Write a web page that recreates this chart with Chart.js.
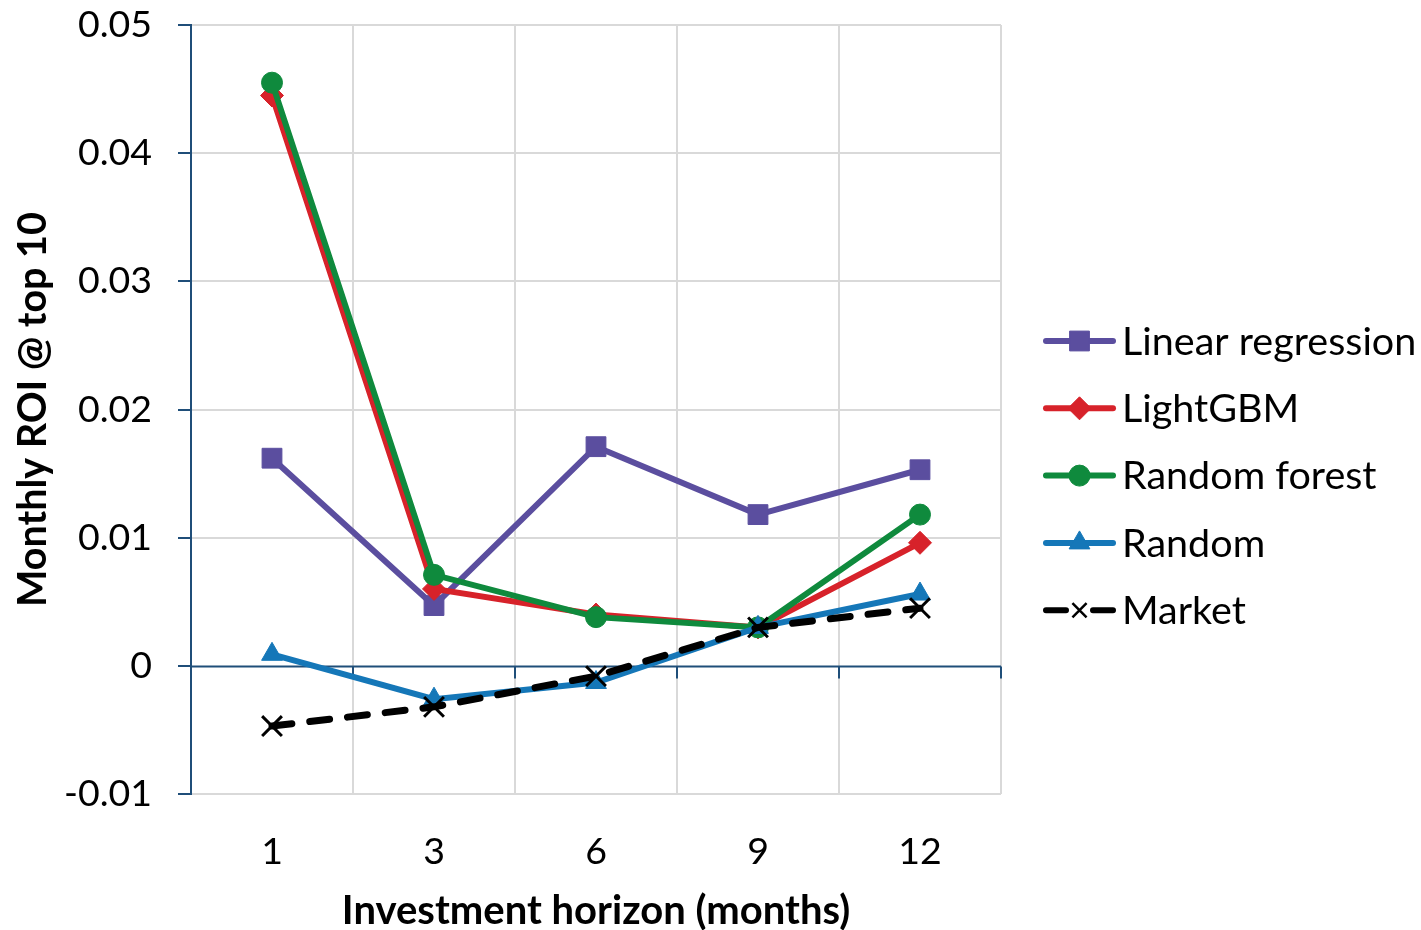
<!DOCTYPE html>
<html>
<head>
<meta charset="utf-8">
<title>Monthly ROI by investment horizon</title>
<script src="https://cdn.jsdelivr.net/npm/chart.js@4/dist/chart.umd.min.js"></script>
<style>
  html, body { margin: 0; padding: 0; background: #ffffff; }
  #wrap { width: 1421px; height: 930px; position: relative; }
</style>
</head>
<body>
<div id="wrap"><canvas id="roi"></canvas></div>
<script>
// Investment horizons (months)
const horizons = ['1', '3', '6', '9', '12'];

// Monthly ROI @ top 10 for each model
const linearRegression = [0.0162, 0.0047, 0.0171, 0.0118, 0.0153];
const lightGBM         = [0.0445, 0.0060, 0.0040, 0.0030, 0.0096];
const randomForest     = [0.0455, 0.0071, 0.0038, 0.0030, 0.0118];
const randomPick       = [0.0009, -0.0026, -0.0013, 0.0030, 0.0056];
const market           = [-0.0047, -0.0032, -0.0008, 0.0030, 0.0045];

const FONT = 'Lato, "Open Sans", sans-serif';
const AXIS_BLUE = '#1F4E79';
const GRID_GREY = '#d9d9d9';

const series = [
  { label: 'Linear regression', data: linearRegression, color: '#5B4E9F', pointStyle: 'rect',     radius: 14,   width: 6, dash: [] },
  { label: 'LightGBM',          data: lightGBM,         color: '#D7222A', pointStyle: 'rectRot',  radius: 11.5, width: 6, dash: [] },
  { label: 'Random forest',     data: randomForest,     color: '#0F8A3D', pointStyle: 'circle',   radius: 10.5, width: 6, dash: [] },
  { label: 'Random',            data: randomPick,       color: '#1577B8', pointStyle: 'triangle', radius: 12,   width: 6, dash: [] },
  { label: 'Market',            data: market,           color: '#000000', pointStyle: 'crossRot', radius: 14,   width: 7, dash: [20, 18] }
];

// Later series are painted on top of earlier ones
const datasets = series.map((s, i) => ({
  label: s.label,
  data: s.data,
  order: series.length - 1 - i,
  borderColor: s.color,
  backgroundColor: s.color,
  borderWidth: s.width,
  borderDash: s.dash,
  borderCapStyle: s.dash.length ? 'round' : 'butt',
  pointStyle: s.pointStyle,
  pointRadius: s.radius,
  pointHoverRadius: s.radius,
  pointBorderWidth: s.pointStyle === 'crossRot' ? 3 : 1,
  pointBorderColor: s.color,
  pointBackgroundColor: s.color,
  tension: 0,
  fill: false
}));

// Zero axis line with small tick marks below it at the category boundaries
const zeroAxis = {
  id: 'zeroAxis',
  beforeDatasetsDraw(chart) {
    const { ctx, chartArea, scales } = chart;
    const y0 = Math.round(scales.y.getPixelForValue(0)) + 0.5;
    ctx.save();
    ctx.strokeStyle = AXIS_BLUE;
    ctx.lineWidth = 2;
    ctx.beginPath();
    ctx.moveTo(chartArea.left, y0);
    ctx.lineTo(chartArea.right, y0);
    const n = horizons.length;
    const step = (chartArea.right - chartArea.left) / n;
    for (let i = 1; i <= n; i++) {
      const x = Math.round(chartArea.left + step * i);
      ctx.moveTo(x, y0);
      ctx.lineTo(x, y0 + 12);
    }
    ctx.stroke();
    ctx.restore();
  }
};

// Legend on the right: line segment with the series marker in the middle
const sideLegend = {
  id: 'sideLegend',
  afterDraw(chart) {
    const { ctx } = chart;
    const x0 = 1046, x1 = 1113, textX = 1122;
    const top = 341, gap = 67.3;
    ctx.save();
    series.forEach((s, i) => {
      const y = top + gap * i;
      ctx.strokeStyle = s.color;
      ctx.lineWidth = 6;
      ctx.lineCap = 'round';
      ctx.setLineDash([]);
      ctx.beginPath();
      if (s.pointStyle === 'crossRot') {
        ctx.moveTo(x0, y); ctx.lineTo(x0 + 20, y);
        ctx.moveTo(x1 - 20, y); ctx.lineTo(x1, y);
      } else {
        ctx.moveTo(x0, y); ctx.lineTo(x1, y);
      }
      ctx.stroke();
      ctx.lineCap = 'butt';
      ctx.fillStyle = s.color;
      ctx.lineWidth = s.pointStyle === 'crossRot' ? 2.5 : 1;
      Chart.helpers.drawPoint(ctx, {
        pointStyle: s.pointStyle,
        radius: s.pointStyle === 'crossRot' ? 10 : s.radius,
        rotation: 0,
        borderWidth: ctx.lineWidth
      }, (x0 + x1) / 2, y);
      ctx.fillStyle = '#000000';
      ctx.font = '39.5px ' + FONT;
      ctx.textBaseline = 'middle';
      ctx.textAlign = 'left';
      ctx.fillText(s.label, textX, y + 1);
    });
    ctx.restore();
  }
};

new Chart(document.getElementById('roi'), {
  type: 'line',
  data: { labels: horizons, datasets },
  plugins: [zeroAxis, sideLegend],
  options: {
    responsive: true,
    maintainAspectRatio: false,
    animation: false,
    layout: { padding: { top: 25, right: 420, left: 0, bottom: 0 } },
    plugins: {
      legend: { display: false },
      tooltip: { enabled: false }
    },
    scales: {
      x: {
        type: 'category',
        offset: true,
        grid: {
          offset: true,
          color: GRID_GREY,
          lineWidth: 2,
          drawTicks: false
        },
        border: { display: false },
        ticks: {
          color: '#000000',
          font: { family: FONT, size: 37.5 },
          padding: 35
        },
        title: {
          display: true,
          text: 'Investment horizon (months)',
          color: '#000000',
          font: { family: FONT, size: 40, weight: 'bold', lineHeight: 0.95 },
          padding: { top: 12, bottom: 0 }
        },
        afterFit(scale) {
          scale.height = 136;
          scale.paddingLeft = 0;
          scale.paddingRight = 0;
        }
      },
      y: {
        min: -0.01,
        max: 0.05,
        ticks: {
          stepSize: 0.01,
          color: '#000000',
          font: { family: FONT, size: 37.5 },
          padding: 26,
          callback: v => {
            const r = Math.round(v * 100) / 100;
            return r === 0 ? '0' : String(r);
          }
        },
        grid: {
          color: ctx => (ctx.tick && ctx.tick.value === 0) ? 'rgba(0,0,0,0)' : GRID_GREY,
          lineWidth: 2,
          tickLength: 13,
          tickColor: AXIS_BLUE
        },
        border: { display: true, color: AXIS_BLUE, width: 2 },
        title: {
          display: true,
          text: 'Monthly ROI @ top 10',
          color: '#000000',
          font: { family: FONT, size: 39.5, weight: 'bold' },
          padding: { top: 10, bottom: 0 }
        },
        afterFit(scale) {
          scale.width = 191;
          scale.paddingTop = 0;
          scale.paddingBottom = 0;
        }
      }
    }
  }
});
</script>
</body>
</html>
